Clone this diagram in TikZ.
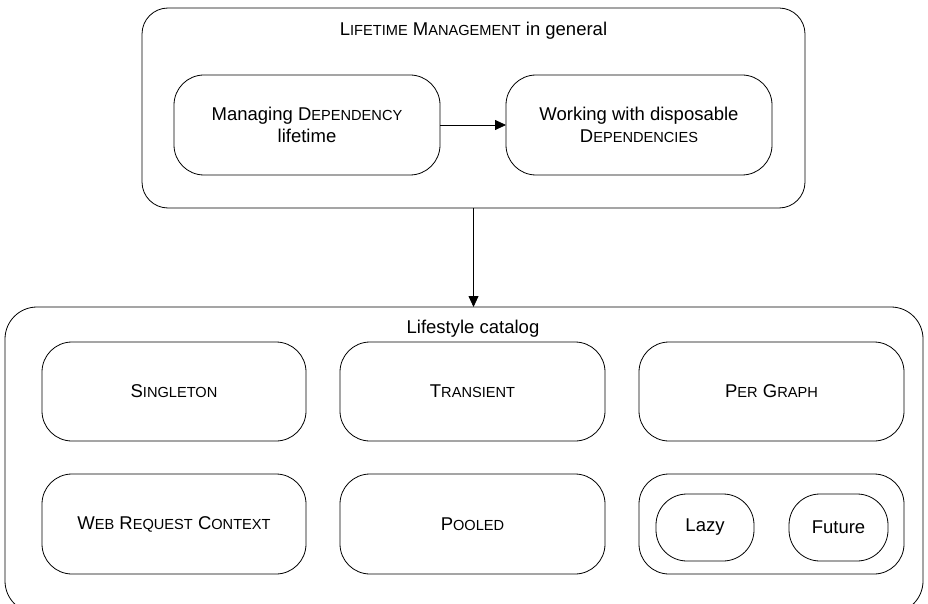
\documentclass[tikz,border=0pt]{standalone}
\usepackage{fontspec}
\setmainfont{Liberation Sans}
\usetikzlibrary{arrows.meta}
\newcommand\smc[1]{{\fontsize{14.6pt}{17pt}\selectfont\uppercase{#1}}}
\begin{document}
\begin{tikzpicture}[x=1pt,y=-1pt,
  every node/.style={font=\fontsize{18.5pt}{22pt}\selectfont},
  rbox/.style={draw=black,line width=0.8pt,rounded corners=30pt,inner sep=0pt,outer sep=0pt,align=center},
  arr/.style={line width=0.8pt,-{Triangle[length=11pt,width=10pt]}}]
\useasboundingbox (0,0) rectangle (928,604);
\clip (0,0) rectangle (928,604);
% top container
\node[rbox,rounded corners=26pt,minimum width=663pt,minimum height=200pt] (top) at (473.5,108) {};
\node (toptitle) at (473.5,31) {L\smc{ifetime} M\smc{anagement} in general};
\node[rbox,minimum width=266pt,minimum height=100pt] (m1) at (307,125) {Managing D\smc{ependency}\\lifetime};
\node[rbox,minimum width=266pt,minimum height=100pt] (m2) at (639,125) {Working with disposable\\D\smc{ependencies}};
\draw[arr] (m1.east) -- (m2.west);
% bottom container
\node[rbox,rounded corners=32pt,minimum width=918pt,minimum height=306pt] (bot) at (464,460) {};
\node (bottitle) at (473,329) {Lifestyle catalog};
\draw[arr] (top.south) -- (top.south |- bot.north);
\node[rbox,minimum width=264pt,minimum height=99pt] (single) at (174,391.5) {S\smc{ingleton}};
\node[rbox,minimum width=265pt,minimum height=99pt] (trans) at (472.5,391.5) {T\smc{ransient}};
\node[rbox,minimum width=265pt,minimum height=99pt] (pergraph) at (771.5,391.5) {P\smc{er} G\smc{raph}};
\node[rbox,minimum width=264pt,minimum height=100pt] (web) at (174,524) {W\smc{eb} R\smc{equest} C\smc{ontext}};
\node[rbox,minimum width=265pt,minimum height=100pt] (pooled) at (472.5,524) {P\smc{ooled}};
\node[rbox,minimum width=265pt,minimum height=100pt] (lazyfut) at (771.5,524) {};
\node[rbox,rounded corners=31pt,minimum width=98pt,minimum height=67pt] (lazy) at (705,527.5) {Lazy};
\node[rbox,rounded corners=31pt,minimum width=99pt,minimum height=67pt] (future) at (838.5,527.5) {Future};
\end{tikzpicture}
\end{document}
